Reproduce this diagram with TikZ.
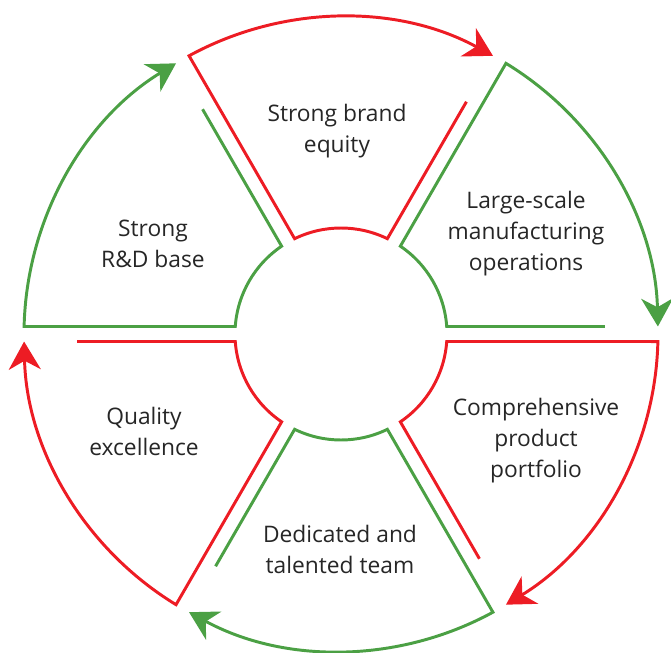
\documentclass[tikz,border=0pt]{standalone}
\usepackage{fontspec}
\setmainfont{Open Sans}
\usepackage{xcolor}
\usetikzlibrary{arrows.meta}

\definecolor{ringred}{HTML}{ED1C24}
\definecolor{ringgreen}{HTML}{4BA044}
\definecolor{textgray}{HTML}{262626}

\begin{document}
\begin{tikzpicture}[x=0.025cm,y=0.025cm,
  sector/.style={line width=2.1pt, line join=miter,
    -{Stealth[length=0.7cm,width=0.8cm,inset=0.22cm]}},
  ringtext/.style={align=center, text=textgray,
    font=\fontsize{16.2}{22}\selectfont}]
%\draw[help lines] (-341,-318) grid[step=50] (330,334);
\useasboundingbox (-341,-318) rectangle (330,334);

\foreach \s/\col in {180/ringgreen,120/ringred,60/ringgreen,0/ringred,-60/ringgreen,-120/ringred}{
  \pgfmathsetmacro{\e}{\s-60}
  \draw[sector, draw=\col] (\e+1.63:264) -- (\e+4.06:106)
    arc[start angle=\e+4.06, end angle=\s-4.06, radius=106]
    -- (\s-1.36:317)
    arc[start angle=\s-1.36, end angle=\e+1.36, radius=317];
}

\node[ringtext] (brand) at (-4,203) {Strong brand\\equity};
\node[ringtext] (plant) at (185,100) {Large-scale\\manufacturing\\operations};
\node[ringtext] (range) at (195,-107) {Comprehensive\\product\\portfolio};
\node[ringtext] (team) at (-1,-215) {Dedicated and\\talented team};
\node[ringtext] (quality) at (-197,-97) {Quality\\excellence};
\node[ringtext] (rnd) at (-188,90) {Strong\\R\&D base};

\end{tikzpicture}
\end{document}
